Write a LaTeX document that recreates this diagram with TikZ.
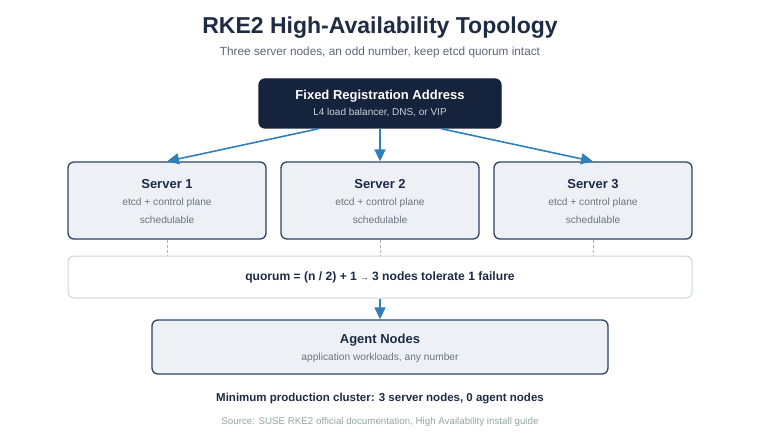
\documentclass[tikz,border=0pt]{standalone}
\usepackage{fontspec}
\setmainfont{Liberation Sans}
\usetikzlibrary{arrows.meta}
\definecolor{cTitle}{HTML}{1E2B45}
\definecolor{cSub}{HTML}{5B6675}
\definecolor{cLB}{HTML}{16233C}
\definecolor{cLBtxt}{HTML}{C9D1DC}
\definecolor{cSrv}{HTML}{EDF1F6}
\definecolor{cSrvE}{HTML}{2D4365}
\definecolor{cGrey}{HTML}{6B7380}
\definecolor{cArr}{HTML}{2F80B9}
\definecolor{cQuo}{HTML}{CBD4E0}
\definecolor{cDash}{HTML}{A9B2BE}
\definecolor{cSrc}{HTML}{92A89C}

\begin{document}
\begin{tikzpicture}[
  x=1pt,y=-1pt,
  >={Triangle[length=12pt,width=11pt]},
  box/.style={rounded corners=6pt,line width=1.3pt,align=center,inner sep=0pt},
  srv/.style={box,fill=cSrv,draw=cSrvE,minimum width=198pt,minimum height=77pt},
  hd/.style={font=\fontsize{13}{15}\selectfont\bfseries,text=cTitle},
  sub/.style={font=\fontsize{10.2}{12}\selectfont,text=cGrey},
  flow/.style={->,line width=1.6pt,cArr},
  link/.style={line width=1pt,cDash,dash pattern=on 3pt off 2pt},
]
\useasboundingbox (0,0) rectangle (760,441);

% ---------- TITLE ----------
\node[font=\fontsize{23}{27}\selectfont\bfseries,text=cTitle] (title) at (380,28) {RKE2 High-Availability Topology};
\node[font=\fontsize{11.8}{14}\selectfont,text=cSub] (subtitle) at (380,52.5) {Three server nodes, an odd number, keep etcd quorum intact};

% ---------- REGISTRATION ADDRESS ----------
\node[box,fill=cLB,draw=cLB,minimum width=242pt,minimum height=49pt] (lb) at (380,103.5) {};
\node[hd,text=white] at (380,96) {Fixed Registration Address};
\node[sub,font=\fontsize{10}{12}\selectfont,text=cLBtxt] at (380,112.5) {L4 load balancer, DNS, or VIP};

% ---------- SERVERS ----------
\foreach \i/\x in {1/167,2/380,3/593}{
  \node[srv] (s\i) at (\x,200.5) {};
  \node[hd] at (\x,184) {Server \i};
  \node[sub] at (\x,203) {etcd + control plane};
  \node[sub] at (\x,219.5) {schedulable};
}

% ---------- QUORUM ----------
\node[box,fill=white,draw=cQuo,line width=1pt,minimum width=624pt,minimum height=42pt] (quorum) at (380,277) {};
\node[font=\fontsize{12.1}{14}\selectfont\bfseries,text=cTitle] at (380,277)
  {quorum = (n / 2) + 1 {\fontsize{8.5}{10}\selectfont\mdseries→} 3 nodes tolerate 1 failure};

% ---------- AGENTS ----------
\node[box,fill=cSrv,draw=cSrvE,minimum width=456pt,minimum height=54pt] (agent) at (380,347) {};
\node[hd] at (380,340) {Agent Nodes};
\node[sub] at (380,358) {application workloads, any number};

% ---------- FOOTER ----------
\node[font=\fontsize{11.5}{14}\selectfont\bfseries,text=cTitle] (note) at (380,399) {Minimum production cluster: 3 server nodes, 0 agent nodes};
\node[font=\fontsize{9.75}{11}\selectfont,text=cSrc] (src) at (380,422) {Source: SUSE RKE2 official documentation, High Availability install guide};

% ---------- ARROWS ----------
\draw[flow] ([xshift=-61pt]lb.south) -- (s1.north);
\draw[flow] (lb) -- (s2);
\draw[flow] ([xshift=61pt]lb.south) -- (s3.north);
\foreach \i in {1,2,3}
  \draw[link] (s\i) -- (s\i|-quorum.north);
\draw[flow] (quorum) -- (agent);

\end{tikzpicture}
\end{document}
